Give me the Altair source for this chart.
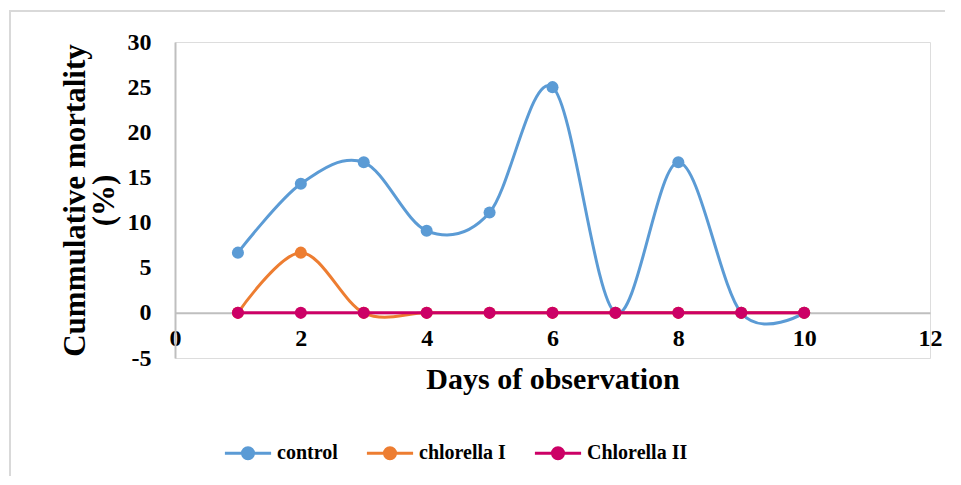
import altair as alt
import pandas as pd

# ---- data ----
days = [1, 2, 3, 4, 5, 6, 7, 8, 9, 10]
control = [6.67, 14.29, 16.67, 9.09, 11.11, 25.0, 0, 16.67, 0, 0]
chlorella_1 = [0, 6.67, 0, 0, 0, 0, 0, 0, 0, 0]
chlorella_2 = [0, 0, 0, 0, 0, 0, 0, 0, 0, 0]
series_names = ["control", "chlorella I", "Chlorella II"]
series_colors = ["#5B9BD5", "#ED7D31", "#CC0066"]
x_ticks = [0, 2, 4, 6, 8, 10, 12]
y_ticks = [-5, 0, 5, 10, 15, 20, 25, 30]

rows = []
for name, vals in zip(series_names, [control, chlorella_1, chlorella_2]):
    for d, v in zip(days, vals):
        rows.append({"day": d, "mortality": v, "series": name})
df = pd.DataFrame(rows)

FONT = "Liberation Serif"
W, H = 755, 316

color = alt.Color(
    "series:N",
    scale=alt.Scale(domain=series_names, range=series_colors),
    legend=alt.Legend(
        title=None,
        orient="none",
        legendX=47,
        legendY=401,
        direction="horizontal",
        labelFont=FONT,
        labelFontSize=20,
        labelFontWeight="bold",
        labelColor="#000000",
        symbolType="M-3.3,0L3.3,0M0.786,0A0.786,0.786 0 1,1 -0.786,0A0.786,0.786 0 1,1 0.786,0"
                   "M0.429,0A0.429,0.429 0 1,1 -0.429,0A0.429,0.429 0 1,1 0.429,0"
                   "M0.114,0A0.114,0.114 0 1,1 -0.114,0A0.114,0.114 0 1,1 0.114,0",
        symbolSize=196,
        symbolStrokeWidth=3,
        symbolOffset=16,
        labelOffset=19,
        columnPadding=22,
    ),
)

x = alt.X(
    "day:Q",
    scale=alt.Scale(domain=[0, 12], nice=False, zero=False),
    axis=alt.Axis(
        values=x_ticks,
        title="Days of observation",
        titleFont=FONT,
        titleFontSize=30,
        titleFontWeight="bold",
        titleColor="#000000",
        titlePadding=14,
        labelFont=FONT,
        labelFontSize=24,
        labelFontWeight="bold",
        labelColor="#000000",
        labelPadding=14,
        labelFlush=False,
        ticks=False,
        grid=False,
        domainColor="#BFBFBF",
        domainWidth=2,
        offset=-H * 5 / 35,
    ),
)
y = alt.Y(
    "mortality:Q",
    scale=alt.Scale(domain=[-5, 30], nice=False, zero=False),
    axis=alt.Axis(
        values=y_ticks,
        labelExpr="'' + datum.value",
        title=["Cummulative mortality", "(%)"],
        titleFont=FONT,
        titleFontSize=31,
        titleFontWeight="bold",
        titleColor="#000000",
        titleLineHeight=29,
        titlePadding=7,
        labelFont=FONT,
        labelFontSize=24,
        labelFontWeight="bold",
        labelColor="#000000",
        labelPadding=24,
        ticks=False,
        grid=False,
        domainColor="#BFBFBF",
        domainWidth=2,
    ),
)

base = alt.Chart(df)
layers = []
for name in series_names:
    sub = base.transform_filter(alt.datum.series == name)
    layers.append(sub.mark_line(interpolate="cardinal", tension=0, strokeWidth=3).encode(x=x, y=y, color=color))
    layers.append(sub.mark_circle(size=145, opacity=1).encode(x=x, y=y, color=color))

# light grey chart-area border (top and left edges visible, like the reference)
frame = alt.Chart(pd.DataFrame({"a": [0]})).mark_rect(
    fill=None, stroke="#D9D9D9", strokeWidth=2
).encode(
    x=alt.value(-165), x2=alt.value(820), y=alt.value(-31), y2=alt.value(470)
)

chart = alt.layer(frame, *layers).properties(
    width=W,
    height=H,
    padding={"left": 167, "top": 34, "right": 15, "bottom": 118},
    autosize=alt.AutoSizeParams(type="none"),
).configure_view(stroke=None).configure(background="#FFFFFF")

chart.save("out.html", embed_options={"renderer": "svg", "actions": False})
